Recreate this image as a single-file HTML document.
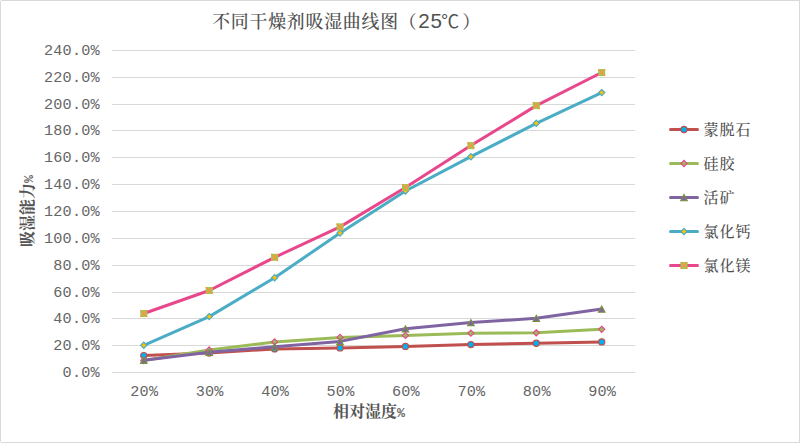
<!DOCTYPE html>
<html lang="zh-CN">
<head>
<meta charset="utf-8">
<title>不同干燥剂吸湿曲线图（25℃）</title>
<style>
html,body{margin:0;padding:0;background:#fff;}
body{width:800px;height:443px;overflow:hidden;}
svg{display:block;}
.num{font-family:"Liberation Mono","DejaVu Sans Mono",monospace;font-size:15.2px;letter-spacing:0.21px;fill:#666666;}
.kai{font-family:"Liberation Serif","Noto Serif CJK SC","Noto Sans CJK SC",serif;fill:#505050;font-weight:500;}
.ttl{font-size:17.9px;letter-spacing:0.77px;}
.lg{font-size:15px;letter-spacing:0.9px;}
.ax{font-size:16px;font-weight:700;fill:#555555;}
.sans{font-family:"Liberation Sans",sans-serif;}
</style>
</head>
<body>
<svg width="800" height="443" viewBox="0 0 800 443">
<rect x="0.5" y="0.5" width="799" height="442" fill="#ffffff" stroke="#d9d9d9" stroke-width="1"/>

<rect x="0" y="0" width="1" height="1" fill="#fff"/><rect x="0" y="442" width="1" height="1" fill="#fff"/>
<g stroke="#d9d9d9" stroke-width="1" shape-rendering="crispEdges">
<line x1="112" x2="635" y1="50.5" y2="50.5"/>
<line x1="112" x2="635" y1="77.5" y2="77.5"/>
<line x1="112" x2="635" y1="104.5" y2="104.5"/>
<line x1="112" x2="635" y1="130.5" y2="130.5"/>
<line x1="112" x2="635" y1="157.5" y2="157.5"/>
<line x1="112" x2="635" y1="184.5" y2="184.5"/>
<line x1="112" x2="635" y1="211.5" y2="211.5"/>
<line x1="112" x2="635" y1="238.5" y2="238.5"/>
<line x1="112" x2="635" y1="265.5" y2="265.5"/>
<line x1="112" x2="635" y1="292.5" y2="292.5"/>
<line x1="112" x2="635" y1="318.5" y2="318.5"/>
<line x1="112" x2="635" y1="345.5" y2="345.5"/>
<line x1="112" x2="635" y1="372.5" y2="372.5"/>
</g>
<g class="num" text-anchor="end">
<text x="99.9" y="54.7">240.0%</text>
<text x="99.9" y="81.7">220.0%</text>
<text x="99.9" y="108.7">200.0%</text>
<text x="99.9" y="134.7">180.0%</text>
<text x="99.9" y="161.7">160.0%</text>
<text x="99.9" y="188.7">140.0%</text>
<text x="99.9" y="215.7">120.0%</text>
<text x="99.9" y="242.7">100.0%</text>
<text x="99.9" y="269.7">80.0%</text>
<text x="99.9" y="296.7">60.0%</text>
<text x="99.9" y="322.7">40.0%</text>
<text x="99.9" y="349.7">20.0%</text>
<text x="99.9" y="376.7">0.0%</text>
</g>
<g class="num" text-anchor="middle">
<text x="144.3" y="395.8">20%</text>
<text x="209.71" y="395.8">30%</text>
<text x="275.13" y="395.8">40%</text>
<text x="340.54" y="395.8">50%</text>
<text x="405.96" y="395.8">60%</text>
<text x="471.37" y="395.8">70%</text>
<text x="536.79" y="395.8">80%</text>
<text x="602.2" y="395.8">90%</text>
</g>
<text class="kai ttl" x="212.2" y="28">不同干燥剂吸湿曲线图（<tspan class="sans" x="418.2" style="font-size:20.6px;font-weight:400">25</tspan><tspan x="441.3" style="font-weight:400;font-family:'Liberation Sans','Noto Sans CJK SC',sans-serif">℃</tspan><tspan x="462.2">）</tspan></text>
<text class="kai ax" x="333" y="417">相对湿度<tspan class="num" style="font-size:13.3px;font-weight:bold">%</tspan></text>
<text class="kai ax" transform="translate(33 247) rotate(-90)">吸湿能力<tspan class="num" style="font-size:13.3px;font-weight:bold">%</tspan></text>
<polyline points="143.8,355.6 209.21,353 274.63,348.9 340.04,347.9 405.46,346.4 470.87,344.6 536.29,343.3 601.7,341.9" fill="none" stroke="#c0504d" stroke-width="3" stroke-linejoin="round" stroke-linecap="round"/>
<g><circle cx="143.8" cy="355.6" r="3.1" fill="#00b0f0" stroke="#c0504d" stroke-width="1.2"/><circle cx="209.21" cy="353" r="3.1" fill="#00b0f0" stroke="#c0504d" stroke-width="1.2"/><circle cx="274.63" cy="348.9" r="3.1" fill="#00b0f0" stroke="#c0504d" stroke-width="1.2"/><circle cx="340.04" cy="347.9" r="3.1" fill="#00b0f0" stroke="#c0504d" stroke-width="1.2"/><circle cx="405.46" cy="346.4" r="3.1" fill="#00b0f0" stroke="#c0504d" stroke-width="1.2"/><circle cx="470.87" cy="344.6" r="3.1" fill="#00b0f0" stroke="#c0504d" stroke-width="1.2"/><circle cx="536.29" cy="343.3" r="3.1" fill="#00b0f0" stroke="#c0504d" stroke-width="1.2"/><circle cx="601.7" cy="341.9" r="3.1" fill="#00b0f0" stroke="#c0504d" stroke-width="1.2"/></g>
<polyline points="143.8,360.5 209.21,350 274.63,341.9 340.04,337.4 405.46,335.4 470.87,333.2 536.29,332.85 601.7,329.3" fill="none" stroke="#9bbb59" stroke-width="3" stroke-linejoin="round" stroke-linecap="round"/>
<g><path d="M143.8 357.4L146.9 360.5L143.8 363.6L140.7 360.5Z" fill="#9bbb59" stroke="#e8478b" stroke-width="1.15"/><path d="M209.21 346.9L212.31 350L209.21 353.1L206.11 350Z" fill="#9bbb59" stroke="#e8478b" stroke-width="1.15"/><path d="M274.63 338.8L277.73 341.9L274.63 345L271.53 341.9Z" fill="#9bbb59" stroke="#e8478b" stroke-width="1.15"/><path d="M340.04 334.3L343.14 337.4L340.04 340.5L336.94 337.4Z" fill="#9bbb59" stroke="#e8478b" stroke-width="1.15"/><path d="M405.46 332.3L408.56 335.4L405.46 338.5L402.36 335.4Z" fill="#9bbb59" stroke="#e8478b" stroke-width="1.15"/><path d="M470.87 330.1L473.97 333.2L470.87 336.3L467.77 333.2Z" fill="#9bbb59" stroke="#e8478b" stroke-width="1.15"/><path d="M536.29 329.75L539.39 332.85L536.29 335.95L533.19 332.85Z" fill="#9bbb59" stroke="#e8478b" stroke-width="1.15"/><path d="M601.7 326.2L604.8 329.3L601.7 332.4L598.6 329.3Z" fill="#9bbb59" stroke="#e8478b" stroke-width="1.15"/></g>
<polyline points="143.8,360.2 209.21,352.3 274.63,346.8 340.04,341.4 405.46,328.8 470.87,322.6 536.29,318.3 601.7,309" fill="none" stroke="#8064a2" stroke-width="3" stroke-linejoin="round" stroke-linecap="round"/>
<g><path d="M143.8 357.2L147.1 363.4L140.5 363.4Z" fill="#8064a2" stroke="#77933c" stroke-width="1.1"/><path d="M209.21 349.3L212.51 355.5L205.91 355.5Z" fill="#8064a2" stroke="#77933c" stroke-width="1.1"/><path d="M274.63 343.8L277.93 350L271.33 350Z" fill="#8064a2" stroke="#77933c" stroke-width="1.1"/><path d="M340.04 338.4L343.34 344.6L336.74 344.6Z" fill="#8064a2" stroke="#77933c" stroke-width="1.1"/><path d="M405.46 325.8L408.76 332L402.16 332Z" fill="#8064a2" stroke="#77933c" stroke-width="1.1"/><path d="M470.87 319.6L474.17 325.8L467.57 325.8Z" fill="#8064a2" stroke="#77933c" stroke-width="1.1"/><path d="M536.29 315.3L539.59 321.5L532.99 321.5Z" fill="#8064a2" stroke="#77933c" stroke-width="1.1"/><path d="M601.7 306L605 312.2L598.4 312.2Z" fill="#8064a2" stroke="#77933c" stroke-width="1.1"/></g>
<polyline points="143.8,345.3 209.21,316.6 274.63,277.7 340.04,233.1 405.46,191 470.87,156.7 536.29,123.3 601.7,92.6" fill="none" stroke="#4bacc6" stroke-width="3" stroke-linejoin="round" stroke-linecap="round"/>
<g><path d="M143.8 342.2L146.9 345.3L143.8 348.4L140.7 345.3Z" fill="#ffc000" stroke="#4bacc6" stroke-width="1.2"/><path d="M209.21 313.5L212.31 316.6L209.21 319.7L206.11 316.6Z" fill="#ffc000" stroke="#4bacc6" stroke-width="1.2"/><path d="M274.63 274.6L277.73 277.7L274.63 280.8L271.53 277.7Z" fill="#ffc000" stroke="#4bacc6" stroke-width="1.2"/><path d="M340.04 230L343.14 233.1L340.04 236.2L336.94 233.1Z" fill="#ffc000" stroke="#4bacc6" stroke-width="1.2"/><path d="M405.46 187.9L408.56 191L405.46 194.1L402.36 191Z" fill="#ffc000" stroke="#4bacc6" stroke-width="1.2"/><path d="M470.87 153.6L473.97 156.7L470.87 159.8L467.77 156.7Z" fill="#ffc000" stroke="#4bacc6" stroke-width="1.2"/><path d="M536.29 120.2L539.39 123.3L536.29 126.4L533.19 123.3Z" fill="#ffc000" stroke="#4bacc6" stroke-width="1.2"/><path d="M601.7 89.5L604.8 92.6L601.7 95.7L598.6 92.6Z" fill="#ffc000" stroke="#4bacc6" stroke-width="1.2"/></g>
<polyline points="143.8,313.5 209.21,290.5 274.63,257.3 340.04,226.9 405.46,187.5 470.87,145.6 536.29,105.6 601.7,72.5" fill="none" stroke="#e8478b" stroke-width="3" stroke-linejoin="round" stroke-linecap="round"/>
<g><rect x="140.3" y="310" width="7" height="7" fill="#92d050"/><path d="M140.5 310.2L147.1 316.8M147.1 310.2L140.5 316.8" stroke="#f79646" stroke-width="1.6" fill="none"/><rect x="205.71" y="287" width="7" height="7" fill="#92d050"/><path d="M205.91 287.2L212.51 293.8M212.51 287.2L205.91 293.8" stroke="#f79646" stroke-width="1.6" fill="none"/><rect x="271.13" y="253.8" width="7" height="7" fill="#92d050"/><path d="M271.33 254L277.93 260.6M277.93 254L271.33 260.6" stroke="#f79646" stroke-width="1.6" fill="none"/><rect x="336.54" y="223.4" width="7" height="7" fill="#92d050"/><path d="M336.74 223.6L343.34 230.2M343.34 223.6L336.74 230.2" stroke="#f79646" stroke-width="1.6" fill="none"/><rect x="401.96" y="184" width="7" height="7" fill="#92d050"/><path d="M402.16 184.2L408.76 190.8M408.76 184.2L402.16 190.8" stroke="#f79646" stroke-width="1.6" fill="none"/><rect x="467.37" y="142.1" width="7" height="7" fill="#92d050"/><path d="M467.57 142.3L474.17 148.9M474.17 142.3L467.57 148.9" stroke="#f79646" stroke-width="1.6" fill="none"/><rect x="532.79" y="102.1" width="7" height="7" fill="#92d050"/><path d="M532.99 102.3L539.59 108.9M539.59 102.3L532.99 108.9" stroke="#f79646" stroke-width="1.6" fill="none"/><rect x="598.2" y="69" width="7" height="7" fill="#92d050"/><path d="M598.4 69.2L605 75.8M605 69.2L598.4 75.8" stroke="#f79646" stroke-width="1.6" fill="none"/></g>
<line x1="670.5" x2="697.5" y1="129.5" y2="129.5" stroke="#c0504d" stroke-width="3" stroke-linecap="round"/>
<circle cx="684" cy="129.5" r="3.1" fill="#00b0f0" stroke="#c0504d" stroke-width="1.2"/>
<text class="kai lg" x="703.6" y="134.7">蒙脱石</text>
<line x1="670.5" x2="697.5" y1="163.5" y2="163.5" stroke="#9bbb59" stroke-width="3" stroke-linecap="round"/>
<path d="M684 160.4L687.1 163.5L684 166.6L680.9 163.5Z" fill="#9bbb59" stroke="#e8478b" stroke-width="1.15"/>
<text class="kai lg" x="703.6" y="168.7">硅胶</text>
<line x1="670.5" x2="697.5" y1="197.5" y2="197.5" stroke="#8064a2" stroke-width="3" stroke-linecap="round"/>
<path d="M684 194.5L687.3 200.7L680.7 200.7Z" fill="#8064a2" stroke="#77933c" stroke-width="1.1"/>
<text class="kai lg" x="703.6" y="202.7">活矿</text>
<line x1="670.5" x2="697.5" y1="231.5" y2="231.5" stroke="#4bacc6" stroke-width="3" stroke-linecap="round"/>
<path d="M684 228.4L687.1 231.5L684 234.6L680.9 231.5Z" fill="#ffc000" stroke="#4bacc6" stroke-width="1.2"/>
<text class="kai lg" x="703.6" y="236.7">氯化钙</text>
<line x1="670.5" x2="697.5" y1="265.5" y2="265.5" stroke="#e8478b" stroke-width="3" stroke-linecap="round"/>
<rect x="680.5" y="262" width="7" height="7" fill="#92d050"/><path d="M680.7 262.2L687.3 268.8M687.3 262.2L680.7 268.8" stroke="#f79646" stroke-width="1.6" fill="none"/>
<text class="kai lg" x="703.6" y="270.7">氯化镁</text>
</svg>
</body>
</html>
